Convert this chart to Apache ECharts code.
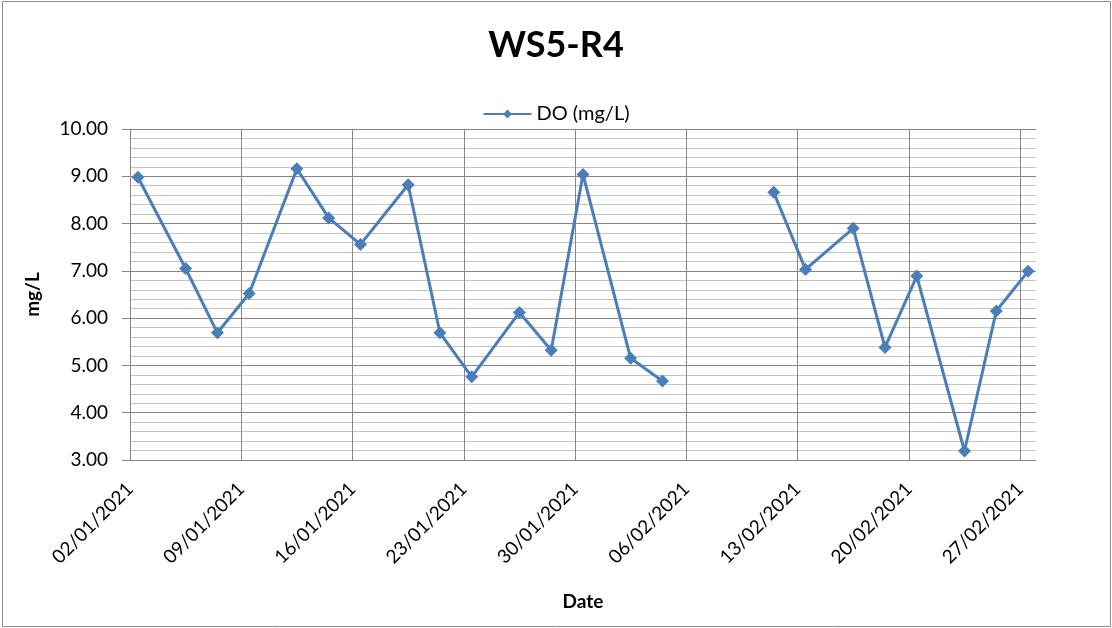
<!DOCTYPE html>
<html>
<head>
<meta charset="utf-8">
<script src="https://cdn.jsdelivr.net/npm/echarts@6/dist/echarts.min.js"></script>
<style>
html,body{margin:0;padding:0;background:#fff;}
#c{width:1112px;height:628px;}
</style>
</head>
<body>
<div id="c"></div>
<script>
const titleText = 'WS5-R4';
const seriesName = 'DO (mg/L)';
const dates = ['02/01/2021','05/01/2021','07/01/2021','09/01/2021','12/01/2021','14/01/2021','16/01/2021','19/01/2021','21/01/2021','23/01/2021','26/01/2021','28/01/2021','30/01/2021','02/02/2021','04/02/2021','08/02/2021','11/02/2021','13/02/2021','16/02/2021','18/02/2021','20/02/2021','23/02/2021','25/02/2021','27/02/2021'];
const doValues = [8.98,7.05,5.69,6.52,9.16,8.12,7.56,8.82,5.69,4.76,6.12,5.32,9.04,5.15,4.67,null,8.66,7.03,7.90,5.38,6.89,3.19,6.15,6.99];
const yTicks = [3,4,5,6,7,8,9,10];
const startDate = '02/01/2021';
const endDate = '28/02/2021';

function parse(s){const p=s.split('/');return Date.UTC(+p[2],+p[1]-1,+p[0]);}
const DAY = 86400000;
const t0 = parse(startDate);
function dayIdx(s){return (parse(s)-t0)/DAY;}
function fmt(d){const dt=new Date(t0+d*DAY);const dd=String(dt.getUTCDate()).padStart(2,'0');const mm=String(dt.getUTCMonth()+1).padStart(2,'0');return dd+'/'+mm+'/'+dt.getUTCFullYear();}

const data = dates.map((d,i)=>[dayIdx(d)+0.5, doValues[i]]);
const xMax = dayIdx(endDate);

const chart = echarts.init(document.getElementById('c'));
const FONT = 'Lato';
chart.setOption({
  animation:false,
  backgroundColor:'#fff',
  textStyle:{fontFamily:FONT},
  graphic:[{type:'rect',shape:{x:2.5,y:1.5,width:1108,height:625},style:{fill:'none',stroke:'#8c8c8c',lineWidth:1},silent:true}],
  title:{text:titleText,left:'center',top:22,textStyle:{fontFamily:FONT,fontSize:36,fontWeight:'bold',color:'#000'}},
  legend:{top:99,left:'center',itemWidth:48,itemHeight:11,itemGap:6,textStyle:{fontFamily:FONT,fontSize:20,color:'#000'},data:[seriesName]},
  grid:{left:130,right:76,top:129,bottom:168},
  xAxis:{type:'value',min:0,max:xMax,interval:7,
    axisLine:{show:true,lineStyle:{color:'#868686',width:1}},
    axisTick:{show:false},
    axisLabel:{rotate:45,margin:26,fontFamily:FONT,fontSize:19,color:'#000',showMaxLabel:false,
      formatter:v=> (v%7===0 && v<xMax)?fmt(v):''},
    splitLine:{show:true,showMaxLine:false,showMinLine:false,lineStyle:{color:'#868686',width:1}},
    name:'Date',nameLocation:'middle',nameGap:132,nameTextStyle:{fontFamily:FONT,fontSize:19,fontWeight:'bold',color:'#000'}},
  yAxis:{type:'value',min:yTicks[0],max:yTicks[yTicks.length-1],interval:1,
    axisLine:{show:true,lineStyle:{color:'#868686',width:1}},
    axisTick:{show:true,length:8,lineStyle:{color:'#868686'}},
    axisLabel:{margin:22,fontFamily:FONT,fontSize:19,color:'#000',formatter:v=>v.toFixed(2)},
    splitLine:{show:true,lineStyle:{color:'#868686',width:1}},
    minorTick:{show:false,splitNumber:5},
    minorSplitLine:{show:true,lineStyle:{color:'#c4c4c4',width:1}},
    name:'mg/L',nameLocation:'middle',nameGap:88,nameRotate:90,nameTextStyle:{fontFamily:FONT,fontSize:19,fontWeight:'bold',color:'#000'}},
  series:[{name:seriesName,type:'line',data:data,connectNulls:false,
    symbol:'diamond',symbolSize:13,showAllSymbol:true,
    lineStyle:{color:'#4a7ebb',width:3},
    itemStyle:{color:'#4a7ebb'}}]
});
</script>
</body>
</html>
